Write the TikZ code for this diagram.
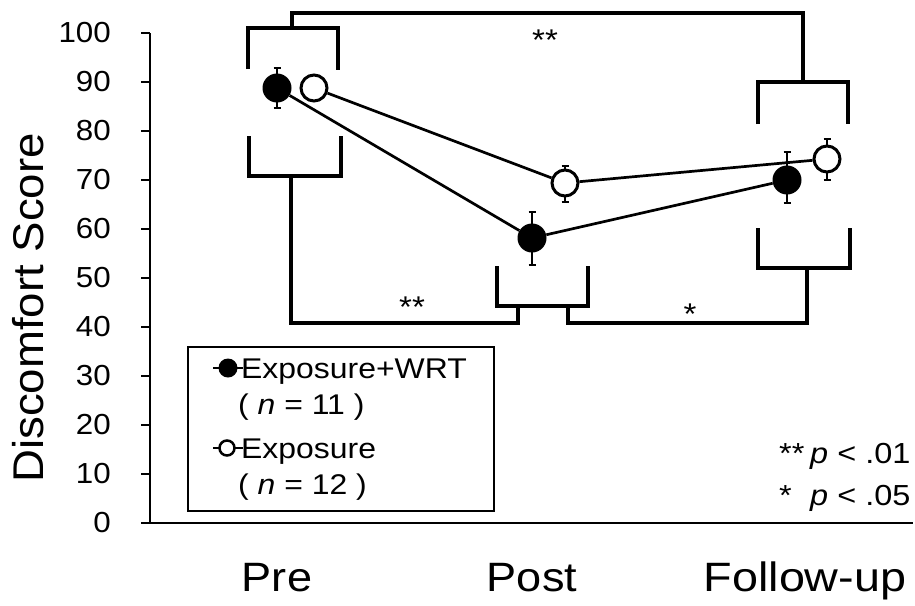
\documentclass[tikz,border=0pt]{standalone}
\usepackage{fontspec}
\setmainfont{Liberation Sans}
\usepackage{graphicx}
\newcommand{\widetext}[2][1.1]{\scalebox{#1}[1]{#2}}
\begin{document}
\begin{tikzpicture}[x=1pt,y=-1pt,
  axis/.style={line width=2pt},
  bracket/.style={line width=4pt, line join=miter},
  series/.style={line width=2.7pt},
  errbar/.style={line width=1.5pt},
  filledmark/.style={circle, fill=black, minimum size=29pt, inner sep=0pt},
  openmark/.style={circle, draw=black, fill=white, line width=3pt, minimum size=26pt, inner sep=0pt},
  ticklabel/.style={inner sep=0pt, font=\fontsize{29}{34}\selectfont},
  catlabel/.style={inner sep=0pt, anchor=base, font=\fontsize{41}{48}\selectfont},
  starlabel/.style={inner sep=0pt, anchor=base, font=\fontsize{30}{36}\selectfont},
  legtext/.style={inner sep=0pt, anchor=base west, font=\fontsize{28.5}{34}\selectfont},
  sigtext/.style={inner sep=0pt, anchor=base west, font=\fontsize{29}{34}\selectfont},
]
\useasboundingbox (0,0) rectangle (915,605);

% axes and ticks
\draw[axis] (150,33) -- (150,523) -- (913,523);
\foreach \v in {0,10,...,100} {
  \draw[axis] (141,{523-4.9*\v}) -- (150,{523-4.9*\v});
  \node[ticklabel, anchor=east] (t\v) at (111,{523-4.9*\v}) {\widetext[1.08]{\v}};
}
\node[rotate=90, anchor=base, inner sep=0pt, font=\fontsize{43}{50}\selectfont] (ylab) at (43,308) {\widetext[1.06]{Discomfort Score}};

% category labels
\node[catlabel] (cpre) at (277,591) {\widetext{Pre}};
\node[catlabel] (cpost) at (532,591) {\widetext{Post}};
\node[catlabel] (cfu) at (805,591) {\widetext[1.14]{Follow-up}};

% significance brackets: Pre vs Follow-up
\draw[bracket] (248,69) -- (248,28) -- (338,28) -- (338,70);
\draw[bracket] (292,28) -- (292,13) -- (803,13) -- (803,82);
\draw[bracket] (758,124) -- (758,82) -- (848,82) -- (848,124);
% Pre vs Post, Post vs Follow-up
\draw[bracket] (249,136) -- (249,176) -- (341,176) -- (341,136);
\draw[bracket] (291,176) -- (291,323) -- (518,323) -- (518,306);
\draw[bracket] (497,266) -- (497,306) -- (588,306) -- (588,266);
\draw[bracket] (568,306) -- (568,323) -- (807,323) -- (807,268);
\draw[bracket] (758,228) -- (758,268) -- (850,268) -- (850,228);

\node[starlabel] (s1) at (545,50) {\widetext{**}};
\node[starlabel] (s2) at (412,317) {\widetext{**}};
\node[starlabel] (s3) at (690,324) {\widetext{*}};

% error bars
\foreach \x/\a/\b in {277/68/108, 532/212/265, 565/166/202, 787/152/203, 827/139/180} {
  \draw[errbar] (\x,\a) -- (\x,\b);
  \draw[errbar] (\x-3.5,\a) -- (\x+3.5,\a);
  \draw[errbar] (\x-3.5,\b) -- (\x+3.5,\b);
}

% data points
\node[filledmark] (preA) at (277,88) {};
\node[filledmark] (postA) at (532,238) {};
\node[filledmark] (fuA) at (787,180) {};
\node[openmark] (preB) at (314,88) {};
\node[openmark] (postB) at (565,183) {};
\node[openmark] (fuB) at (827,159) {};
\draw[series] (preA) -- (postA) -- (fuA);
\draw[series] (preB) -- (postB) -- (fuB);

% legend
\node[draw, line width=2pt, anchor=north west, minimum width=306pt, minimum height=164pt, inner sep=0pt] (legend) at (187,346) {};
\coordinate (la1) at (213,368);
\coordinate (la2) at (243,368);
\draw[line width=2pt] (la1) -- (la2);
\node[circle, fill=black, minimum size=19pt, inner sep=0pt] (lmA) at (228,368) {};
\coordinate (lb1) at (213,448);
\coordinate (lb2) at (243,448);
\draw[line width=2pt] (lb1) -- (lb2);
\node[circle, draw=black, fill=white, line width=2.5pt, minimum size=15pt, inner sep=0pt] (lmB) at (227,448) {};
\node[legtext] (l1) at (241,378) {\widetext[1.12]{Exposure+WRT}};
\node[legtext] (l2) at (238,414) {\widetext[1.12]{( {\itshape n} = 11 )}};
\node[legtext] (l3) at (241,458) {\widetext[1.12]{Exposure}};
\node[legtext] (l4) at (238,494) {\widetext[1.12]{( {\itshape n} = 12 )}};

% significance key
\node[sigtext] (k1) at (779,463) {\widetext[1.12]{**}};
\node[sigtext] (k2) at (810,463) {\widetext[1.12]{{\itshape p} < .01}};
\node[sigtext] (k3) at (779,505) {\widetext[1.12]{*}};
\node[sigtext] (k4) at (810,505) {\widetext[1.12]{{\itshape p} < .05}};
\end{tikzpicture}
\end{document}
